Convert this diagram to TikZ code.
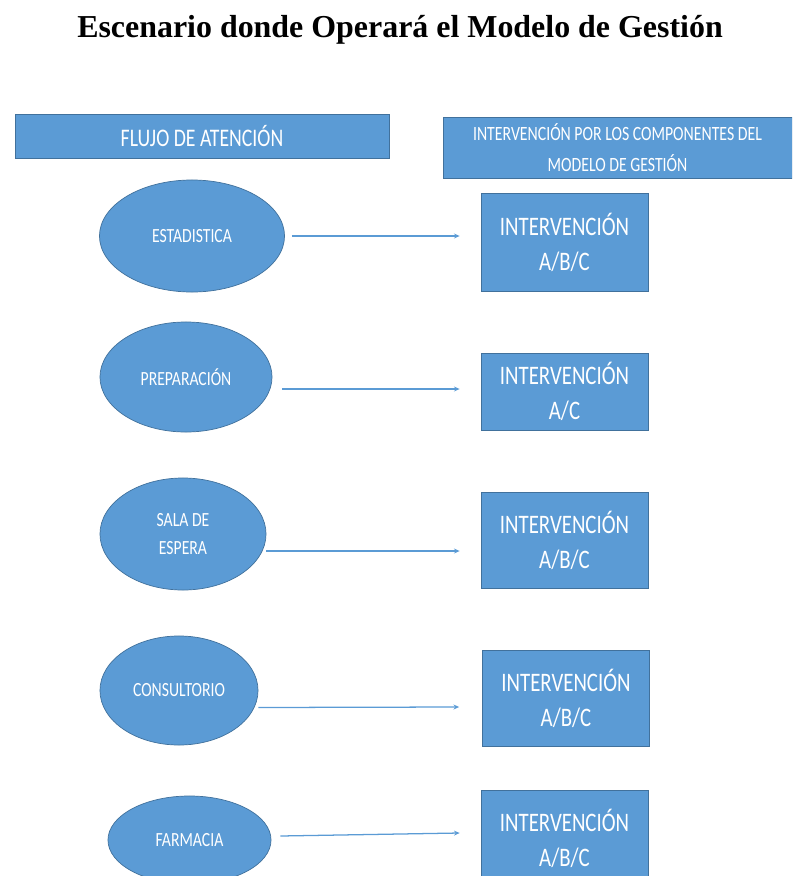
\documentclass[tikz,border=0pt]{standalone}
\usepackage{fontspec}
\setmainfont{Liberation Serif}
\newfontfamily\calfont[FakeStretch=0.78]{Carlito}
\usepackage{tikz}
\usetikzlibrary{arrows.meta,positioning,shapes.geometric,calc}
\definecolor{officeblue}{RGB}{91,155,213}
\definecolor{edgeblue}{RGB}{65,113,156}

\begin{document}
\begin{tikzpicture}[x=0.025cm,y=-0.025cm,
    headbox/.style={draw=edgeblue, line width=0.5pt, fill=officeblue, text=white, inner sep=0pt, align=center},
    actbox/.style={draw=edgeblue, line width=0.5pt, fill=officeblue, text=white, inner sep=0pt, align=center,
        minimum width=4.175cm, font=\calfont\fontsize{19}{25}\selectfont},
    stage/.style={ellipse, draw=edgeblue, line width=0.5pt, fill=officeblue, text=white, inner sep=0pt, align=center,
        font=\calfont\fontsize{14.3}{20}\selectfont},
    flow/.style={draw=officeblue, line width=0.9pt, -{Stealth[length=4pt,width=3.5pt]}}]
    \useasboundingbox (0,0) rectangle (792,876);
    \clip (0,0) rectangle (792,876);

    % Title
    \node[font=\bfseries\fontsize{22.7}{26}\selectfont] (title) at (400,30) {Escenario donde Operará el Modelo de Gestión};

    % Column headers
    \node[headbox, minimum width=9.35cm, minimum height=1.1cm, font=\calfont\fontsize{18}{22}\selectfont]
        (flujo) at (202,136) {FLUJO DE ATENCIÓN};
    \node[headbox, minimum width=8.725cm, minimum height=1.525cm, font=\calfont\fontsize{14.4}{22}\selectfont]
        (comp) at (617.5,147.5) {INTERVENCIÓN POR LOS COMPONENTES DEL\\MODELO DE GESTIÓN};

    % Row 1: Estadistica
    \node[stage, minimum width=4.625cm, minimum height=2.8cm] (e1) at (192,236) {ESTADISTICA};
    \node[actbox, minimum height=2.45cm] (b1) at (564.5,242) {INTERVENCIÓN\\A/B/C};
    \draw[flow] ($(e1.east)+(7,0)$) -- ($(b1.west)+(-21,-6)$);

    % Row 2: Preparacion
    \node[stage, minimum width=4.3cm, minimum height=2.75cm] (e2) at (186,377) {PREPARACIÓN};
    \node[actbox, minimum height=1.925cm] (b2) at (564.5,391.5) {INTERVENCIÓN\\A/C};
    \draw[flow] ($(e2.east)+(10,12)$) -- ($(b2.west)+(-21,-2.5)$);

    % Row 3: Sala de espera
    \node[stage, minimum width=4.15cm, minimum height=2.8cm] (e3) at (183,534) {SALA DE\\ESPERA};
    \node[actbox, minimum height=2.4cm] (b3) at (564.5,540) {INTERVENCIÓN\\A/B/C};
    \draw[flow] ($(e3.east)+(0,17)$) -- ($(b3.west)+(-21,11)$);

    % Row 4: Consultorio
    \node[stage, minimum width=3.95cm, minimum height=2.725cm] (e4) at (179,690.5) {CONSULTORIO};
    \node[actbox, minimum height=2.4cm] (b4) at (566,698) {INTERVENCIÓN\\A/B/C};
    \draw[flow] ($(e4.east)+(0,17)$) -- ($(b4.west)+(-23,9)$);

    % Row 5: Farmacia
    \node[stage, minimum width=4.075cm, minimum height=2.2cm] (e5) at (189.5,840) {FARMACIA};
    \node[actbox, minimum height=2.4cm] (b5) at (564.5,838) {INTERVENCIÓN\\A/B/C};
    \draw[flow] ($(e5.east)+(9,-4)$) -- ($(b5.west)+(-21,-5)$);
\end{tikzpicture}
\end{document}
